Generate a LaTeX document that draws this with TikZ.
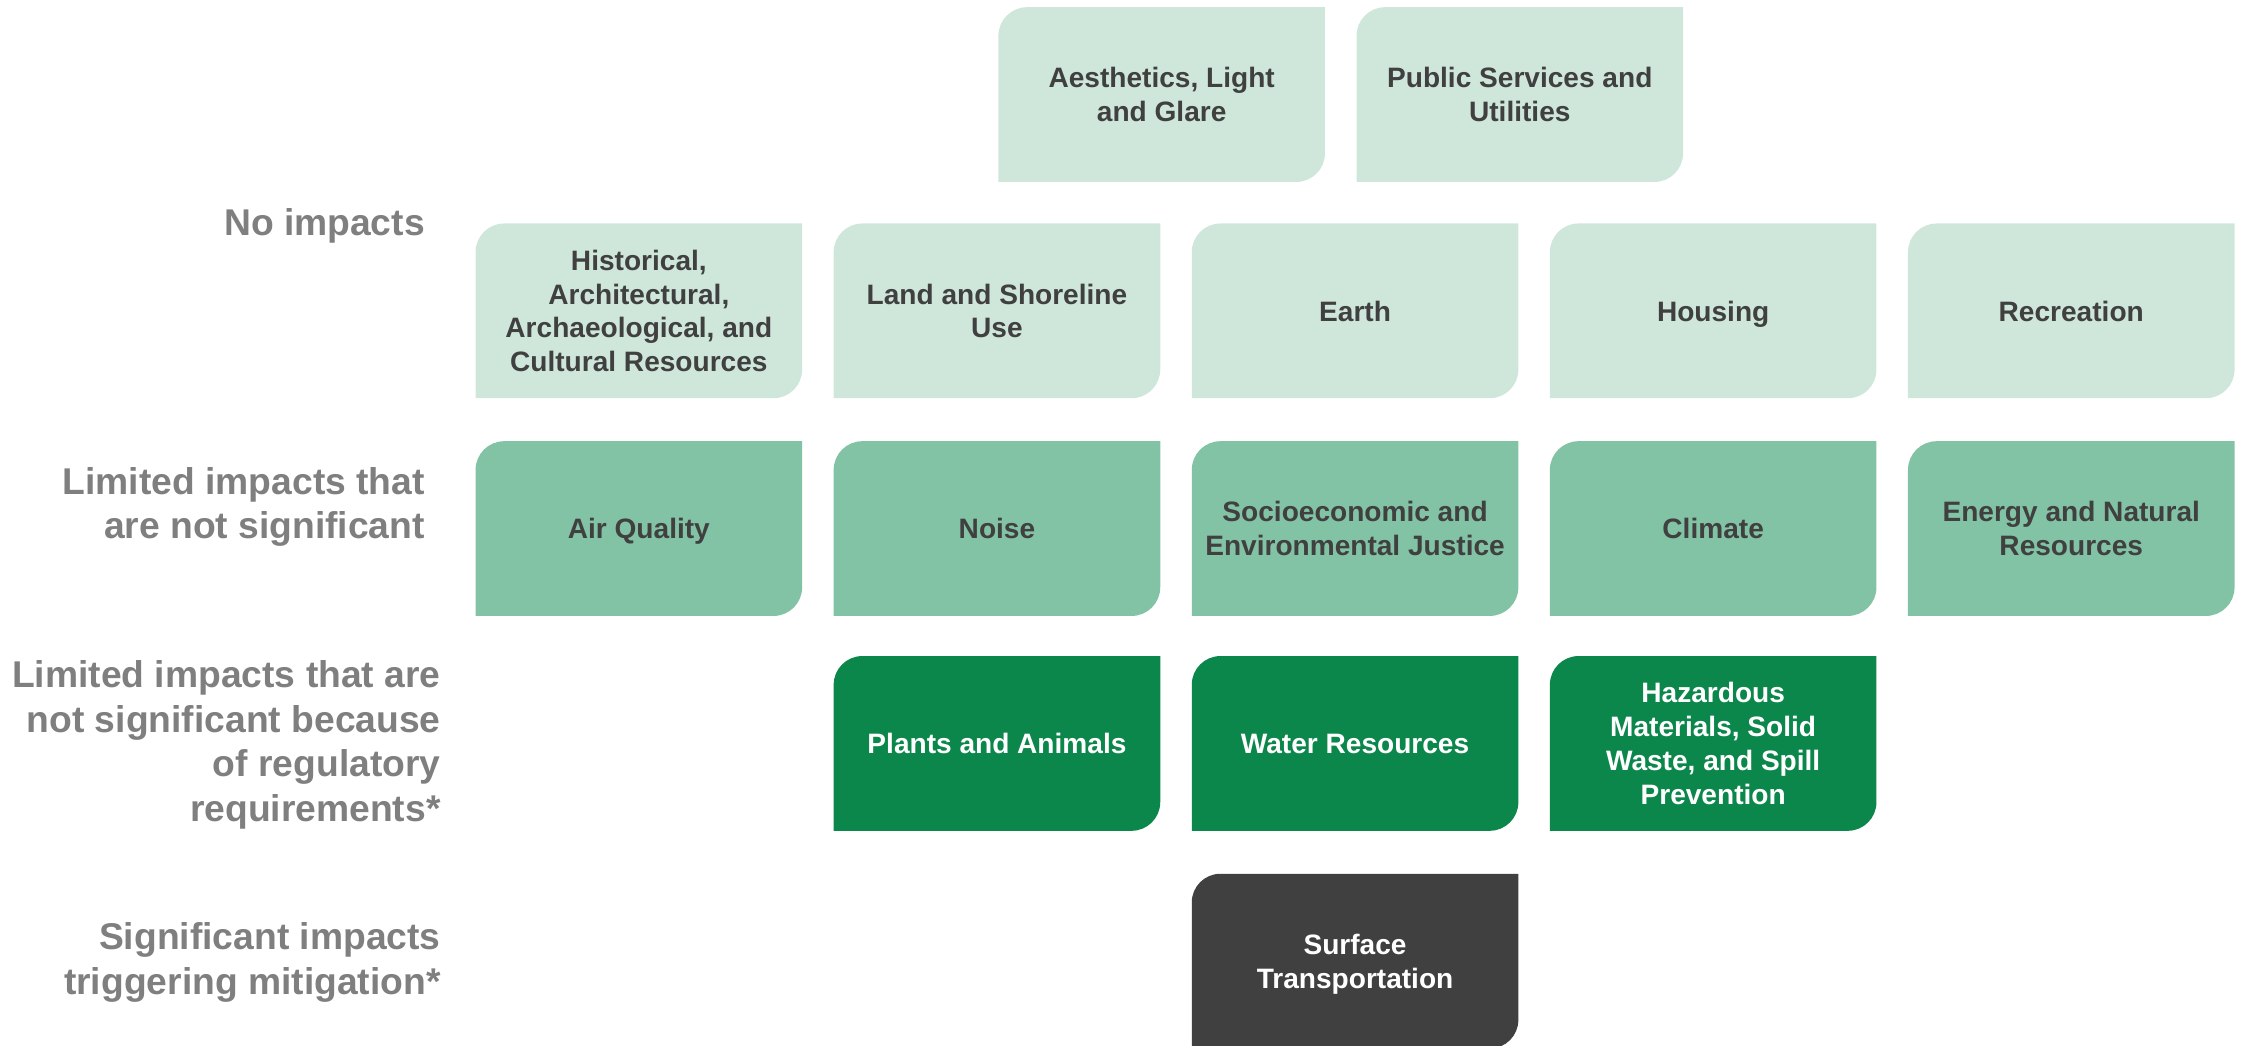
\documentclass[tikz,border=0pt]{standalone}
\usepackage{fontspec}
\setmainfont{Liberation Sans}
\usepackage{tikz}
\usetikzlibrary{positioning}
\definecolor{nolight}{HTML}{CFE7DB}
\definecolor{limitedmid}{HTML}{82C3A5}
\definecolor{reggreen}{HTML}{0B874B}
\definecolor{sigdark}{HTML}{404040}
\definecolor{labelgrey}{HTML}{7F7F7F}
\definecolor{boxtext}{HTML}{404040}

\tikzset{
  impbox/.style={
    rectangle, inner sep=0pt, outer sep=0pt,
    minimum width=114pt, minimum height=61pt, text depth=0pt,
    align=center, font=\fontsize{9.8}{11.8}\selectfont\bfseries,
    path picture={
      \fill[#1] (path picture bounding box.south west)
        -- ([yshift=-10pt]path picture bounding box.north west)
        arc[start angle=180, end angle=90, radius=10pt]
        -- (path picture bounding box.north east)
        -- ([yshift=10pt]path picture bounding box.south east)
        arc[start angle=0, end angle=-90, radius=10pt]
        -- cycle;
    }
  },
  noimp/.style={impbox=nolight, text=boxtext},
  limimp/.style={impbox=limitedmid, text=boxtext},
  regimp/.style={impbox=reggreen, text=white},
  sigimp/.style={impbox=sigdark, text=white},
  rowlabel/.style={anchor=east, align=right, text=labelgrey, inner sep=0pt,
    font=\fontsize{13}{15.5}\selectfont\bfseries}
}

\begin{document}
\begin{tikzpicture}[x=0.5pt, y=-0.5pt]
    \useasboundingbox (0,0) rectangle (1568,730);

    % Row labels
    \node[rowlabel] (lblno) at (297,158) {No impacts};
    \node[rowlabel] (lbllim) at (297,354) {Limited impacts that\\are not significant};
    \node[rowlabel] (lblreg) at (308,520) {Limited impacts that are\\not significant because\\of regulatory\\requirements*};
    \node[rowlabel] (lblsig) at (308,672) {Significant impacts\\triggering mitigation*};

    % No impacts - top pair
    \node[noimp] (aesth) at (811,66) {Aesthetics, Light\\and Glare};
    \node[noimp] (public) at (1061,66) {Public Services and\\Utilities};

    % No impacts - main row
    \node[noimp] (hist) at (446,217) {Historical,\\Architectural,\\Archaeological, and\\Cultural Resources};
    \node[noimp] (land) at (696,217) {Land and Shoreline\\Use};
    \node[noimp] (earth) at (946,217) {Earth};
    \node[noimp] (housing) at (1196,217) {Housing};
    \node[noimp] (recr) at (1446,217) {Recreation};

    % Limited impacts that are not significant
    \node[limimp] (air) at (446,369) {Air Quality};
    \node[limimp] (noise) at (696,369) {Noise};
    \node[limimp] (socio) at (946,369) {Socioeconomic and\\Environmental Justice};
    \node[limimp] (climate) at (1196,369) {Climate};
    \node[limimp] (energy) at (1446,369) {Energy and Natural\\Resources};

    % Not significant because of regulatory requirements
    \node[regimp] (plants) at (696,519) {Plants and Animals};
    \node[regimp] (water) at (946,519) {Water Resources};
    \node[regimp] (hazard) at (1196,519) {Hazardous\\Materials, Solid\\Waste, and Spill\\Prevention};

    % Significant impacts
    \node[sigimp] (surface) at (946,671) {Surface\\Transportation};
\end{tikzpicture}
\end{document}
